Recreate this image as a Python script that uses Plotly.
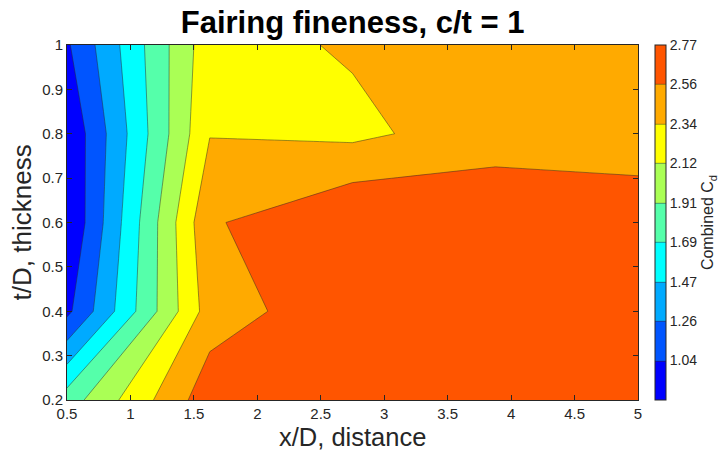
import plotly.graph_objects as go

# Grid of measurement positions
x_dist = [0.5, 1.625, 2.75, 3.875, 5.0]          # x/D, distance
t_thick = [0.2, 0.4, 0.6, 0.8, 1.0]              # t/D, thickness

# Combined drag coefficient, one row per thickness
cd_t020 = [1.80, 2.69, 2.72, 2.70, 2.68]
cd_t040 = [0.99, 2.443, 2.72, 2.72, 2.70]
cd_t060 = [0.825, 2.528, 2.772, 2.725, 2.70]
cd_t080 = [0.85, 2.33, 2.291, 2.455, 2.426]
cd_t100 = [1.012, 2.262, 2.362, 2.47, 2.45]

# Contour levels and colour bar labels
cd_min, cd_max = 0.825, 2.772
n_bands = 9
level_step = (cd_max - cd_min) / n_bands
level_labels = ["1.04", "1.26", "1.47", "1.69", "1.91", "2.12", "2.34", "2.56", "2.77"]

x_ticks = [0.5, 1, 1.5, 2, 2.5, 3, 3.5, 4, 4.5, 5]
x_ticktext = ["0.5", "1", "1.5", "2", "2.5", "3", "3.5", "4", "4.5", "5"]
y_ticks = [0.2, 0.3, 0.4, 0.5, 0.6, 0.7, 0.8, 0.9, 1.0]
y_ticktext = ["0.2", "0.3", "0.4", "0.5", "0.6", "0.7", "0.8", "0.9", "1"]

band_colors = ["#0000ff", "#0055ff", "#00aaff", "#00ffff", "#55ffaa",
               "#aaff55", "#ffff00", "#ffaa00", "#ff5500"]

z = [cd_t020, cd_t040, cd_t060, cd_t080, cd_t100]
levels = [cd_min + level_step * (k + 1) for k in range(n_bands)]
colorscale = [[k / (n_bands - 1), c] for k, c in enumerate(band_colors)]

font_main = "Liberation Sans, Arial, sans-serif"
ink = "#262626"

fig = go.Figure(
    go.Contour(
        x=x_dist, y=t_thick, z=z,
        zmin=cd_min, zmax=cd_max, zauto=False,
        autocontour=False,
        contours=dict(start=levels[0], end=levels[-2], size=level_step,
                      coloring="fill", showlines=True),
        line=dict(color="rgba(40,40,40,0.8)", width=0.6, smoothing=0),
        colorscale=colorscale,
        colorbar=dict(
            x=1.0298, xanchor="left", xpad=0,
            y=0.5, yanchor="middle", ypad=0,
            len=1, lenmode="fraction",
            thickness=11,
            outlinewidth=1, outlinecolor=ink,
            tickmode="array", tickvals=levels, ticktext=level_labels,
            ticks="",
            tickfont=dict(family=font_main, size=14, color=ink),
            title=dict(text="Combined C<sub>d</sub>", side="right",
                       font=dict(family=font_main, size=16, color=ink)),
        ),
        hoverinfo="skip",
    )
)

axis_common = dict(
    showline=True, mirror="ticks", linecolor=ink, linewidth=1,
    ticks="inside", ticklen=5, tickwidth=1, tickcolor=ink,
    showgrid=False, zeroline=False,
    tickfont=dict(family=font_main, size=15, color=ink),
)

fig.update_layout(
    width=724, height=460,
    margin=dict(l=67, r=86, t=45, b=60, autoexpand=False),
    paper_bgcolor="white", plot_bgcolor="white",
    title=dict(text="<b>Fairing fineness, c/t = 1</b>",
               x=0.487, xanchor="center", y=0.952, yref="container", yanchor="middle",
               font=dict(family=font_main, size=31, color="#000000")),
    xaxis=dict(range=[0.5, 5], tickvals=x_ticks, ticktext=x_ticktext, **axis_common),
    yaxis=dict(range=[0.2, 1.0], tickvals=y_ticks, ticktext=y_ticktext, **axis_common),
    annotations=[
        dict(text="x/D, distance", xref="paper", yref="paper", x=0.5, y=-0.104,
             xanchor="center", yanchor="middle", showarrow=False,
             font=dict(family=font_main, size=25.5, color=ink)),
        dict(text="t/D, thickness", xref="paper", yref="paper", x=-0.079, y=0.5,
             xanchor="center", yanchor="middle", textangle=-90, showarrow=False,
             font=dict(family=font_main, size=26, color=ink)),
    ],
)

fig.write_html("out.html")
